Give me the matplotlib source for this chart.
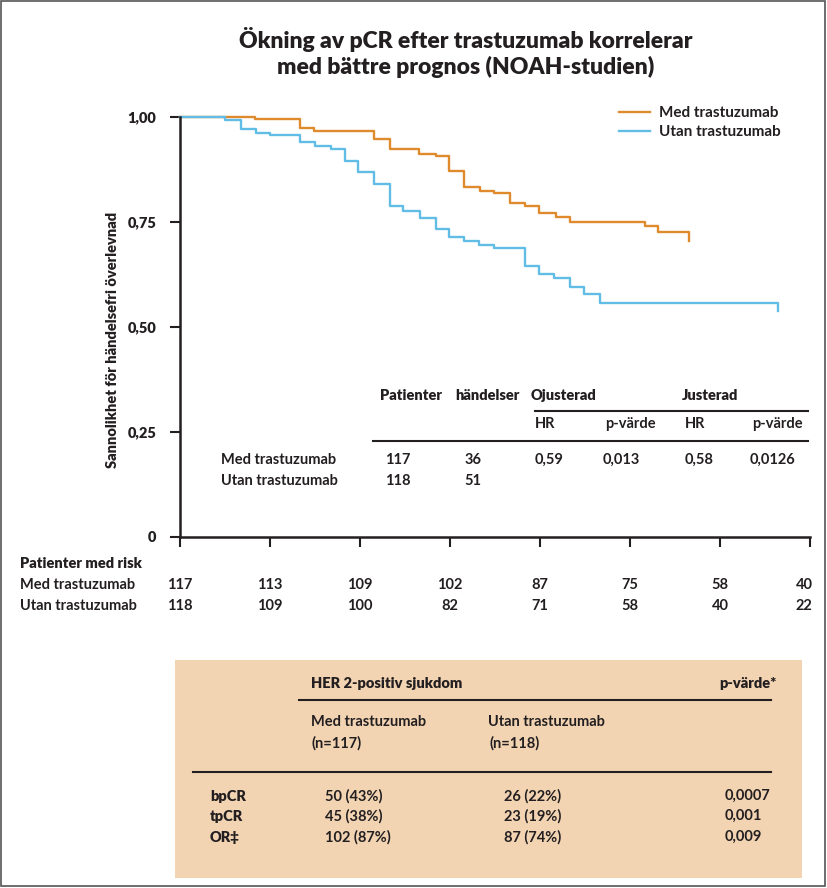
import matplotlib
matplotlib.use("Agg")
import matplotlib.pyplot as plt
from matplotlib.transforms import Affine2D, blended_transform_factory
from matplotlib.patches import Rectangle
from matplotlib.lines import Line2D

plt.rcParams["font.family"] = ["Lato", "DejaVu Sans"]

# Kaplan-Meier curves (years, event-free survival)
t_med = [0, 0.83, 1.33, 1.49, 2.16, 2.33, 2.66, 2.84, 2.99, 3.16, 3.33, 3.49,
         3.67, 3.83, 3.99, 4.18, 4.33, 5.17, 5.31, 5.66]
s_med = [1.0, 0.995, 0.974, 0.967, 0.948, 0.924, 0.913, 0.906, 0.871, 0.834, 0.825, 0.818,
         0.795, 0.788, 0.771, 0.762, 0.749, 0.740, 0.726, 0.704]
t_utan = [0, 0.5, 0.68, 0.84, 1.0, 1.33, 1.5, 1.68, 1.83, 1.98, 2.16, 2.33, 2.48,
          2.67, 2.84, 2.99, 3.16, 3.32, 3.49, 3.83, 3.99, 4.15, 4.33, 4.49, 4.67, 6.64]
s_utan = [1.0, 0.994, 0.972, 0.963, 0.958, 0.940, 0.930, 0.924, 0.895, 0.869, 0.840, 0.787, 0.777,
          0.759, 0.733, 0.715, 0.705, 0.695, 0.689, 0.646, 0.625, 0.616, 0.595, 0.579, 0.558, 0.538]

groups = ["Med trastuzumab", "Utan trastuzumab"]
yticks = [0, 0.25, 0.5, 0.75, 1.0]
ytick_labels = ["0", "0,25", "0,50", "0,75", "1,00"]
risk_times = [0, 1, 2, 3, 4, 5, 6, 7]
risk_med = [117, 113, 109, 102, 87, 75, 58, 40]
risk_utan = [118, 109, 100, 82, 71, 58, 40, 22]

# hazard table inside the plot
hr_patients = [117, 118]
hr_events = [36, 51]
hr_unadj = ["0,59", "0,013"]
hr_adj = ["0,58", "0,0126"]

# pCR box
pcr_rows = ["bpCR", "tpCR", "OR‡"]
pcr_med = ["50 (43%)", "45 (38%)", "102 (87%)"]
pcr_utan = ["26 (22%)", "23 (19%)", "87 (74%)"]
pcr_p = ["0,0007", "0,001", "0,009"]

ORANGE = "#E08A2E"
BLUE = "#62BDE6"
INK = "#231F20"
BEIGE = "#F2D4B3"

W, H = 827, 888
fig = plt.figure(figsize=(W / 100, H / 100), dpi=100)
px = Affine2D().scale(1 / W, -1 / H).translate(0, 1) + fig.transFigure

# frame round the whole picture
fig.patches.append(Rectangle((1, 1), W - 3, H - 3, transform=px, fill=False,
                             edgecolor="#555555", linewidth=1.2))

fig.text(466, 40, "Ökning av pCR efter trastuzumab korrelerar", transform=px,
         ha="center", va="center", fontsize=16.5, fontweight=800, color=INK)
fig.text(466, 67, "med bättre prognos (NOAH-studien)", transform=px,
         ha="center", va="center", fontsize=16.5, fontweight=800, color=INK)

ax = fig.add_axes([180 / W, 1 - 537 / H, 630 / W, 420 / H])
ax.step(t_med, s_med, where="post", color=ORANGE, lw=1.7, clip_on=False, label=groups[0])
ax.step(t_utan, s_utan, where="post", color=BLUE, lw=1.7, clip_on=False, label=groups[1])
ax.set_xlim(0, 7)
ax.set_ylim(0, 1)
for s in ["top", "right"]:
    ax.spines[s].set_visible(False)
for s in ["left", "bottom"]:
    ax.spines[s].set_color(INK)
    ax.spines[s].set_linewidth(1.8)
ax.set_xticks(risk_times)
ax.set_xticklabels([])
ax.set_yticks(yticks)
ax.set_yticklabels(ytick_labels)
ax.tick_params(axis="both", direction="out", length=7, width=1.5, color=INK)
ax.tick_params(axis="y", labelsize=10.5, pad=10, labelcolor=INK)
for lab in ax.get_yticklabels():
    lab.set_fontweight(800)

fig.text(113, 340, "Sannolikhet för händelsefri överlevnad", transform=px, rotation=90,
         ha="center", va="center", fontsize=10.5, fontweight=800, color=INK)

leg = ax.legend(loc="upper left", bbox_to_anchor=(619, 106), bbox_transform=px,
                frameon=False, fontsize=11, handlelength=2.0, handletextpad=0.6,
                labelspacing=0.35, borderaxespad=0, borderpad=0)
for txt in leg.get_texts():
    txt.set_fontweight(700)
    txt.set_color(INK)

body = dict(transform=px, fontsize=10.5, fontweight=700, color=INK, va="center")
head = dict(transform=px, fontsize=10.5, fontweight=800, color=INK, va="center")

# hazard ratio table
fig.text(380, 395, "Patienter", **head)
fig.text(455, 395, "händelser", **head)
fig.text(531, 395, "Ojusterad", **head)
fig.text(682, 395, "Justerad", **head)
fig.add_artist(Line2D([535, 808], [411, 411], transform=px, color=INK, lw=1.5))
fig.text(535, 424, "HR", **body)
fig.text(605, 424, "p-värde", **body)
fig.text(685, 424, "HR", **body)
fig.text(752, 424, "p-värde", **body)
fig.add_artist(Line2D([373, 808], [441, 441], transform=px, color=INK, lw=1.5))
for i, y in enumerate([460, 481]):
    fig.text(221, y, groups[i], **body)
    fig.text(398, y, str(hr_patients[i]), ha="center", **body)
    fig.text(473, y, str(hr_events[i]), ha="center", **body)
fig.text(535, 460, hr_unadj[0], **body)
fig.text(603, 460, hr_unadj[1], **body)
fig.text(685, 460, hr_adj[0], **body)
fig.text(750, 460, hr_adj[1], **body)

# patients at risk
risk_tf = blended_transform_factory(ax.transData, px)
fig.text(20, 563, "Patienter med risk", **head)
for row, (name, vals) in enumerate(zip(groups, [risk_med, risk_utan])):
    y = 585 + row * 21
    fig.text(20, y, name, **body)
    for t, v in zip(risk_times, vals):
        kw = dict(body)
        kw["transform"] = risk_tf
        if t == risk_times[-1]:
            fig.text(t + 0.03, y, str(v), ha="right", **kw)
        else:
            fig.text(t, y, str(v), ha="center", **kw)

# pCR box
fig.patches.append(Rectangle((175, 660), 627, 218, transform=px, facecolor=BEIGE,
                             edgecolor="none"))
fig.text(311, 683, "HER 2-positiv sjukdom", **head)
fig.text(777, 683, "p-värde*", ha="right", **head)
fig.add_artist(Line2D([299, 771], [700, 700], transform=px, color=INK, lw=1.5))
fig.text(311, 722, "Med trastuzumab", **body)
fig.text(311, 743, "(n=117)", **body)
fig.text(488, 722, "Utan trastuzumab", **body)
fig.text(489, 743, "(n=118)", **body)
fig.add_artist(Line2D([193, 771], [772, 772], transform=px, color=INK, lw=1.5))
for i, y in enumerate([796, 816, 837]):
    fig.text(210, y, pcr_rows[i], **head)
    fig.text(325, y, pcr_med[i], **body)
    fig.text(504, y, pcr_utan[i], **body)
    fig.text(725, y, pcr_p[i], **body)

fig.savefig("out.png", dpi=100)
